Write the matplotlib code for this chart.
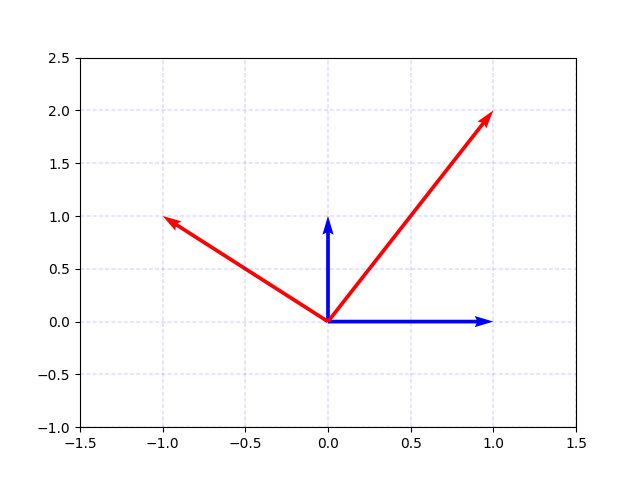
import numpy as np
import matplotlib.pyplot as plt

# vectores: base (azul) y transformados (rojo)
origin_x = [0, 0, 0, 0]
origin_y = [0, 0, 0, 0]
u = [1, 0, 1, -1]
v = [0, 1, 2, 1]
colors = ['b', 'b', 'r', 'r']

fig, ax = plt.subplots(figsize=(6.4, 4.8), dpi=100)
ax.quiver(origin_x, origin_y, u, v, color=colors,
          angles='xy', scale_units='xy', scale=1)
ax.set_xlim(-1.5, 1.5)
ax.set_ylim(-1, 2.5)
ax.grid(color='b', linestyle=(0, (2, 1)), linewidth=1.5, alpha=0.1)
fig.savefig('out.png')
